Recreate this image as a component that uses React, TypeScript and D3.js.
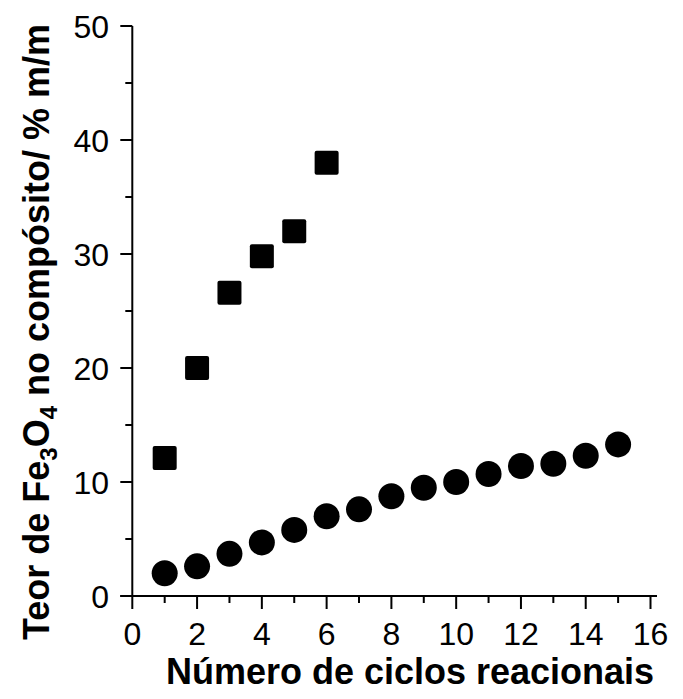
import React from "react";
import * as d3 from "d3";

const squareCycles = [1, 2, 3, 4, 5, 6];
const squareValues = [12.1, 20.0, 26.6, 29.8, 32.0, 38.0];
const circleCycles = [1, 2, 3, 4, 5, 6, 7, 8, 9, 10, 11, 12, 13, 14, 15];
const circleValues = [2.0, 2.6, 3.7, 4.7, 5.8, 7.0, 7.6, 8.75, 9.5, 10.0, 10.7, 11.4, 11.6, 12.3, 13.3];
const xTicks = [0, 2, 4, 6, 8, 10, 12, 14, 16];
const xMinor = [1, 3, 5, 7, 9, 11, 13, 15];
const yTicks = [0, 10, 20, 30, 40, 50];
const yMinor = [5, 15, 25, 35, 45];

const W = 683;
const H = 699;
const x0 = 132.3;
const xRight = 657;
const y0 = 596;
const yTop = 26;

export default function App() {
  const x = d3.scaleLinear().domain([0, 16]).range([x0, 650.5]);
  const y = d3.scaleLinear().domain([0, 50]).range([y0, yTop]);
  const font = "'Liberation Sans', Arial, Helvetica, sans-serif";
  const sq = 24;
  return (
    <svg
      width={W}
      height={H}
      style={{ position: "absolute", left: 0, top: 0, background: "#fff" }}
      fontFamily={font}
    >
      <rect x={0} y={0} width={W} height={H} fill="#fff" />
      {/* axes */}
      <line x1={x0} x2={x0} y1={y(0)} y2={y(50)} stroke="#000" strokeWidth={2} />
      <line x1={x0 - 12} x2={xRight} y1={y(0)} y2={y(0)} stroke="#000" strokeWidth={2} />
      {yTicks.map((t) => (
        <g key={"yt" + t}>
          <line x1={x0 - 12} x2={x0} y1={y(t)} y2={y(t)} stroke="#000" strokeWidth={2} />
          <text x={109} y={y(t)} dy="0.36em" textAnchor="end" fontSize={32}>
            {t}
          </text>
        </g>
      ))}
      {yMinor.map((t) => (
        <line key={"ym" + t} x1={x0 - 7} x2={x0} y1={y(t)} y2={y(t)} stroke="#000" strokeWidth={2} />
      ))}
      {xTicks.map((t) => (
        <g key={"xt" + t}>
          <line x1={x(t)} x2={x(t)} y1={y0} y2={y0 + 13} stroke="#000" strokeWidth={2} />
          <text x={x(t)} y={645} textAnchor="middle" fontSize={32}>
            {t}
          </text>
        </g>
      ))}
      {xMinor.map((t) => (
        <line key={"xm" + t} x1={x(t)} x2={x(t)} y1={y0} y2={y0 + 7} stroke="#000" strokeWidth={2} />
      ))}
      {/* data */}
      {squareCycles.map((c, i) => (
        <rect
          key={"s" + c}
          x={x(c) - sq / 2}
          y={y(squareValues[i]) - sq / 2}
          width={sq}
          height={sq}
          rx={2}
          fill="#000"
        />
      ))}
      {circleCycles.map((c, i) => (
        <circle key={"c" + c} cx={x(c)} cy={y(circleValues[i])} r={13} fill="#000" />
      ))}
      {/* titles */}
      <text x={410} y={684} textAnchor="middle" fontSize={36} fontWeight="bold">
        Número de ciclos reacionais
      </text>
      <text
        transform={`translate(49, 332) rotate(-90)`}
        textAnchor="middle"
        fontSize={36}
        fontWeight="bold"
      >
        Teor de Fe
        <tspan fontSize={24} dy={8}>3</tspan>
        <tspan dy={-8}>O</tspan>
        <tspan fontSize={24} dy={8}>4</tspan>
        <tspan dy={-8}> no compósito/ % m/m</tspan>
      </text>
    </svg>
  );
}
